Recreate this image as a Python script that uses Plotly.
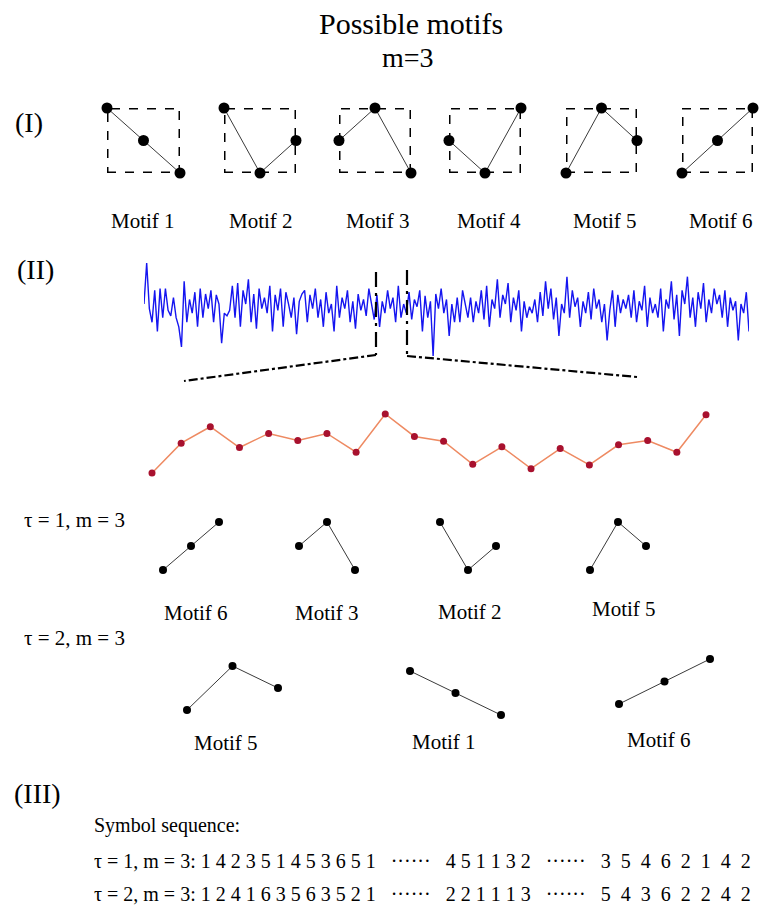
import plotly.graph_objects as go

# ---------------- data ----------------
motif_ranks = {
    1: [3, 2, 1],
    2: [3, 1, 2],
    3: [2, 3, 1],
    4: [2, 1, 3],
    5: [1, 3, 2],
    6: [1, 2, 3],
}
motif_ids_all = [1, 2, 3, 4, 5, 6]
tau1_motifs = [6, 3, 2, 5]
tau2_motifs = [5, 1, 6]

blue_seg1 = [55, 100, 50, 35, 70, 25, 72, 40, 72, 48, 42, 62, 40, 30, 8, 80, 35, 60, 45, 68,
             30, 72, 40, 66, 50, 70, 35, 65, 55, 12, 45, 42, 48, 75, 40, 78, 30, 70, 55, 82,
             35, 66, 28, 72, 50, 62, 45, 75, 25, 65, 48, 72, 30, 68, 55, 40, 62, 22, 58, 66]
blue_seg2 = [70, 35, 65, 50, 72, 40, 60, 30, 68, 45, 55, 25, 75, 40, 62, 50, 70, 35, 58, 28,
             66, 48, 60, 42, 72, 55, 38, 65, 30, 58, 45, 70, 50, 62, 35, 75, 40, 55, 45, 68,
             38, 60, 52, 70, 25, 64, 40, 58, -2, 66, 50, 72, 45, 60, 20, 55, 35, 62, 35, 70]
blue_seg3 = [55, 40, 62, 35, 58, 45, 70, 38, 75, 30, 60, 50, 82, 40, 65, 55, 78, 35, 62, 48,
             70, 25, 58, 40, 52, 45, 60, 35, 68, 42, 80, 50, 72, 38, 62, 20, 55, 45, 85, 40,
             70, 52, 62, 30, 58, 45, 68, 38, 72, 50, 60, 35, 55, 15, 48, 70, 30, 65, 45, 60]
blue_seg4 = [50, 65, 40, 70, 35, 58, 48, 75, 30, 62, 45, 55, 40, 72, 25, 60, 50, 80, 38, 65,
             20, 70, 55, 85, 40, 62, 30, 68, 50, 78, 35, 60, 45, 72, 55, 65, 40, 70, 30, 62,
             48, 58, 15, 55, 45, 68, 25]
blue_values = blue_seg1 + blue_seg2 + blue_seg3 + blue_seg4

red_values = [16, 105, 154, 92, 134, 113, 134, 78, 192, 125,
              111, 42, 94, 29, 89, 40, 100, 113, 78, 190]

title_lines = ["Possible motifs", "m=3"]
section_labels = ["(I)", "(II)", "(III)"]
tau_labels = ["\u03c4 = 1, m = 3", "\u03c4 = 2, m = 3"]
seq_tau1 = [[1, 4, 2, 3, 5, 1, 4, 5, 3, 6, 5, 1], [4, 5, 1, 1, 3, 2], [3, 5, 4, 6, 2, 1, 4, 2]]
seq_tau2 = [[1, 2, 4, 1, 6, 3, 5, 6, 3, 5, 2, 1], [2, 2, 1, 1, 1, 3], [5, 4, 3, 6, 2, 2, 4, 2]]

# ---------------- layout helpers ----------------
W, H = 759, 913
FONT = "Liberation Serif, Times New Roman, serif"
NB = "\u00a0"


def dx(a, b):
    return [a / W, b / W]


def dy(top, bottom):
    return [1 - bottom / H, 1 - top / H]


fig = go.Figure()
layout_axes = {}
shapes = []
annotations = []
ax_counter = [0]


def new_axes(xdom, ydom, xr, yr):
    ax_counter[0] += 1
    n = ax_counter[0]
    sx = "" if n == 1 else str(n)
    layout_axes["xaxis" + sx] = dict(domain=xdom, range=xr, visible=False,
                                     fixedrange=True, anchor="y" + sx)
    layout_axes["yaxis" + sx] = dict(domain=ydom, range=yr, visible=False,
                                     fixedrange=True, anchor="x" + sx)
    return "x" + sx, "y" + sx


def text(s, x, y, size, xanchor="center"):
    annotations.append(dict(text=s, x=x / W, y=1 - y / H, xref="paper", yref="paper",
                            showarrow=False, xanchor=xanchor, yanchor="middle",
                            font=dict(family=FONT, size=size, color="black")))


def motif(mid, box, dsize=9, lw=1, dashed_box=False):
    x0, x1, top, bottom = box
    xa, ya = new_axes(dx(x0, x1), dy(top, bottom), [0, 2], [1, 3])
    if dashed_box:
        shapes.append(dict(type="rect", xref=xa, yref=ya, x0=0, x1=2, y0=1, y1=3,
                           layer="below",
                           line=dict(color="black", width=3, dash="dash")))
    fig.add_trace(go.Scatter(x=[0, 1, 2], y=motif_ranks[mid], xaxis=xa, yaxis=ya,
                             mode="lines+markers", cliponaxis=False,
                             line=dict(color="#3a3a3a", width=lw),
                             marker=dict(color="black", size=dsize),
                             hoverinfo="skip"))


# ---------------- section I ----------------
text(title_lines[0], 411, 23, 30)
text(title_lines[1], 408, 57, 28)
text(section_labels[0], 29, 123, 28)

boxes_I = [(107, 180), (224, 296), (339, 411), (449, 521), (566, 637), (682, 753)]
label_x_I = [143, 261, 378, 489, 605, 721]
for mid, (a, b), lx in zip(motif_ids_all, boxes_I, label_x_I):
    motif(mid, (a, b, 108, 173), dsize=11, dashed_box=True)
    text(f"Motif {mid}", lx, 221, 21)

# ---------------- section II ----------------
text(section_labels[1], 35, 269, 28)

bx, by = new_axes(dx(144, 749), dy(263, 356),
                  [0, len(blue_values) - 1], [min(blue_values), max(blue_values)])
fig.add_trace(go.Scatter(x=list(range(len(blue_values))), y=blue_values, xaxis=bx, yaxis=by,
                         mode="lines", line=dict(color="#1515f0", width=1.4),
                         hoverinfo="skip"))

# zoom window markers (dash-dot)
win_l, win_r = 376, 407
for xv, ytop in [(win_l, 272), (win_r, 270)]:
    shapes.append(dict(type="line", xref="paper", yref="paper",
                       x0=xv / W, x1=xv / W, y0=1 - ytop / H, y1=1 - 355 / H,
                       line=dict(color="black", width=2.2, dash="longdashdot")))
shapes.append(dict(type="line", xref="paper", yref="paper",
                   x0=win_l / W, y0=1 - 355 / H, x1=184 / W, y1=1 - 381 / H,
                   line=dict(color="black", width=2.2, dash="dashdot")))
shapes.append(dict(type="line", xref="paper", yref="paper",
                   x0=win_r / W, y0=1 - 356 / H, x1=637 / W, y1=1 - 377 / H,
                   line=dict(color="black", width=2.2, dash="dashdot")))

rx, ry = new_axes(dx(152, 706), dy(414, 473),
                  [0, len(red_values) - 1], [min(red_values), max(red_values)])
fig.add_trace(go.Scatter(x=list(range(len(red_values))), y=red_values, xaxis=rx, yaxis=ry,
                         mode="lines+markers", cliponaxis=False,
                         line=dict(color="#ee8a62", width=1.5),
                         marker=dict(color="#a8112e", size=7),
                         hoverinfo="skip"))

# tau = 1
text(tau_labels[0], 22, 520, 21, xanchor="left")
tau1_x = [(163, 219), (299, 355), (440, 496), (590, 646)]
tau1_lab = [(196, 613), (327, 613), (470, 612), (624, 609)]
for mid, (a, b), (lx, ly) in zip(tau1_motifs, tau1_x, tau1_lab):
    motif(mid, (a, b, 522, 570), dsize=8)
    text(f"Motif {mid}", lx, ly, 21)

# tau = 2
text(tau_labels[1], 22, 638, 21, xanchor="left")
tau2_box = [(187, 278, 666, 710), (410, 501, 671, 715), (619, 710, 659, 704)]
tau2_lab = [(226, 743), (444, 742), (659, 740)]
for mid, box, (lx, ly) in zip(tau2_motifs, tau2_box, tau2_lab):
    motif(mid, box, dsize=8)
    text(f"Motif {mid}", lx, ly, 21)

# ---------------- section III ----------------
text(section_labels[2], 12, 793, 28, xanchor="left")
text("Symbol sequence:", 92, 825, 20, xanchor="left")
dots = "\u00b7" * 6
gap = NB * 3


def seq_row(label, groups):
    g1 = " ".join(str(v) for v in groups[0])
    g2 = " ".join(str(v) for v in groups[1])
    g3 = "\u2002".join(str(v) for v in groups[2])
    return label + ": " + g1 + gap + dots + gap + g2 + gap + dots + gap + g3


text(seq_row(tau_labels[0], seq_tau1), 92, 861, 20, xanchor="left")
text(seq_row(tau_labels[1], seq_tau2), 92, 894, 20, xanchor="left")

fig.update_layout(width=W, height=H, autosize=False,
                  margin=dict(l=0, r=0, t=0, b=0, pad=0),
                  paper_bgcolor="white", plot_bgcolor="white",
                  showlegend=False, shapes=shapes, annotations=annotations,
                  **layout_axes)

fig.write_html("out.html", config={"displayModeBar": False})
